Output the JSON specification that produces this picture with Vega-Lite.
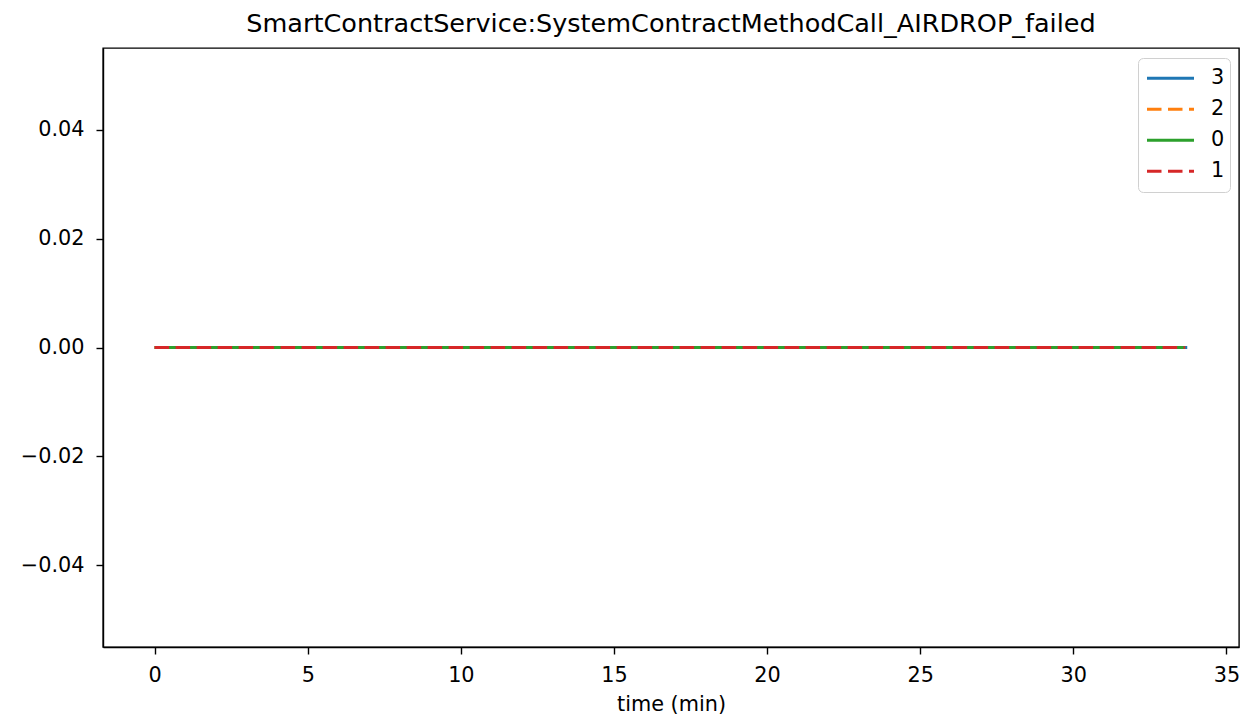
{
  "$schema": "https://vega.github.io/schema/vega-lite/v6.json",
  "autosize": "none",
  "padding": {"left": 103, "top": 48, "right": 1, "bottom": 72},
  "width": 1136,
  "height": 599,
  "title": {"text": "SmartContractService:SystemContractMethodCall_AIRDROP_failed", "font": "DejaVu Sans", "fontSize": 25.5, "fontWeight": "normal", "color": "black", "offset": 11},
  "data": {"values": [
    {"series": "3", "time": 0, "value": 0}, {"series": "3", "time": 5, "value": 0}, {"series": "3", "time": 10, "value": 0}, {"series": "3", "time": 15, "value": 0}, {"series": "3", "time": 20, "value": 0}, {"series": "3", "time": 25, "value": 0}, {"series": "3", "time": 30, "value": 0}, {"series": "3", "time": 33.72, "value": 0},
    {"series": "2", "time": 0, "value": 0}, {"series": "2", "time": 5, "value": 0}, {"series": "2", "time": 10, "value": 0}, {"series": "2", "time": 15, "value": 0}, {"series": "2", "time": 20, "value": 0}, {"series": "2", "time": 25, "value": 0}, {"series": "2", "time": 30, "value": 0}, {"series": "2", "time": 33.65, "value": 0},
    {"series": "0", "time": 0, "value": 0}, {"series": "0", "time": 5, "value": 0}, {"series": "0", "time": 10, "value": 0}, {"series": "0", "time": 15, "value": 0}, {"series": "0", "time": 20, "value": 0}, {"series": "0", "time": 25, "value": 0}, {"series": "0", "time": 30, "value": 0}, {"series": "0", "time": 33.65, "value": 0},
    {"series": "1", "time": 0, "value": 0}, {"series": "1", "time": 5, "value": 0}, {"series": "1", "time": 10, "value": 0}, {"series": "1", "time": 15, "value": 0}, {"series": "1", "time": 20, "value": 0}, {"series": "1", "time": 25, "value": 0}, {"series": "1", "time": 30, "value": 0}, {"series": "1", "time": 33.65, "value": 0}
  ]},
  "mark": {"type": "line", "strokeWidth": 3.2, "clip": true},
  "encoding": {
    "x": {"field": "time", "type": "quantitative", "title": "time (min)",
      "scale": {"domain": [-1.686, 35.41], "nice": false, "zero": false},
      "axis": {"values": [0, 5, 10, 15, 20, 25, 30, 35], "format": "d", "labelPadding": 11, "titlePadding": 10}},
    "y": {"field": "value", "type": "quantitative", "title": null,
      "scale": {"domain": [-0.055, 0.055], "nice": false},
      "axis": {"values": [-0.04, -0.02, 0, 0.02, 0.04], "format": ".2f", "labelExpr": "replace(datum.label, '-', '\u2212')", "labelPadding": 12}},
    "color": {"field": "series", "type": "nominal", "title": null,
      "scale": {"domain": ["3", "2", "0", "1"], "range": ["#1f77b4", "#ff7f0e", "#2ca02c", "#d62728"]},
      "legend": {"orient": "none", "legendX": 1035, "legendY": 10, "symbolType": "stroke", "symbolSize": 2209, "symbolStrokeWidth": 3.2, "symbolOffset": 2,
        "labelFont": "DejaVu Sans", "labelFontSize": 20.8, "labelColor": "black", "labelOffset": 15, "rowPadding": 0, "clipHeight": 30.5,
        "padding": 5, "strokeColor": "#d0d0d0", "cornerRadius": 5, "fillColor": "white"}},
    "strokeDash": {"field": "series", "type": "nominal", "title": null,
      "scale": {"domain": ["3", "2", "0", "1"], "range": [[1, 0], [14.5, 6.5], [1, 0], [14.5, 6.5]]}},
    "order": {"field": "time", "type": "quantitative"}
  },
  "config": {
    "view": {"stroke": "black", "strokeWidth": 1.4},
    "axis": {"grid": false, "domainColor": "black", "domainWidth": 1.4, "tickColor": "black", "tickSize": 7, "tickWidth": 1.4,
      "labelFont": "DejaVu Sans", "labelFontSize": 20.8, "labelColor": "black", "labelPadding": 7,
      "titleFont": "DejaVu Sans", "titleFontSize": 20.8, "titleFontWeight": "normal", "titleColor": "black", "titlePadding": 5}
  }
}
